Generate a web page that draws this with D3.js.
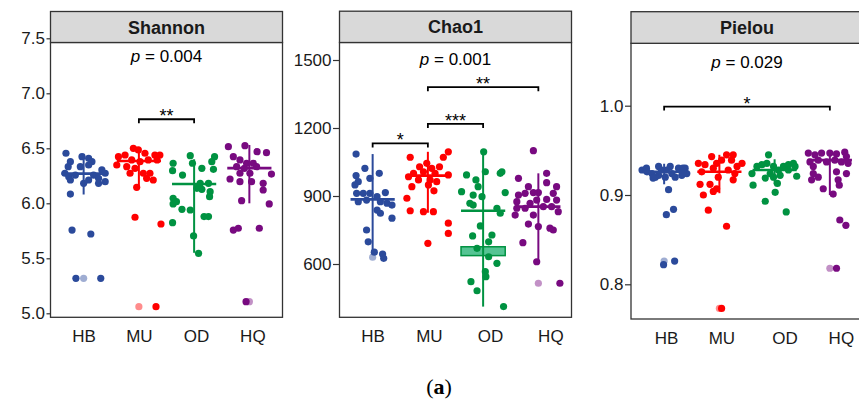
<!DOCTYPE html>
<html>
<head>
<meta charset="utf-8">
<script src="https://cdn.jsdelivr.net/npm/d3@7"></script>
<style>
  body { margin: 0; background: #fff; }
  svg { display: block; font-family: "Liberation Sans", Arial, sans-serif; }
</style>
</head>
<body>
<script>
// groups and colours
const groups = ["HB", "MU", "OD", "HQ"];
const groupColors = ["#2b4a9b", "#ff0000", "#009241", "#780a80"];

// points: [jitter (in category units), value]
const shannonHB = [[-0.32,6.455],[-0.24,6.378],[-0.28,6.333],[-0.03,6.424],[0.09,6.409],[0.15,6.378],[0.09,6.348],[-0.06,6.333],[0.33,6.303],[0.39,6.273],[-0.34,6.273],[-0.27,6.242],[-0.15,6.257],[0.18,6.257],[0.27,6.227],[0.39,6.197],[0.09,6.212],[0.0,6.182],[0.27,6.182],[-0.24,6.212],[-0.24,6.084],[-0.21,5.757],[0.13,5.721],[-0.14,5.318],[0.31,5.318]];
const shannonMU = [[-0.37,6.424],[-0.40,6.348],[-0.25,6.439],[-0.10,6.50],[-0.01,6.485],[0.11,6.455],[0.29,6.439],[0.38,6.439],[-0.13,6.394],[0.02,6.378],[0.17,6.394],[-0.22,6.333],[-0.07,6.318],[0.08,6.273],[0.20,6.273],[-0.16,6.273],[0.14,6.227],[0.26,6.212],[-0.04,6.145],[0.33,6.394],[-0.07,5.873],[0.40,5.812],[0.31,5.06]];
const shannonOD = [[-0.07,6.433],[-0.03,6.364],[-0.38,6.364],[-0.39,6.297],[-0.21,6.257],[0.14,6.318],[0.37,6.424],[0.35,6.309],[0.32,6.378],[0.11,6.182],[0.26,6.182],[0.05,6.136],[0.14,6.127],[0.29,6.106],[0.28,6.06],[-0.38,6.045],[-0.38,5.994],[-0.32,6.015],[-0.22,5.945],[-0.07,5.939],[0.18,5.879],[0.26,5.879],[-0.39,5.824],[-0.01,5.703],[0.08,5.545]];
const shannonHQ = [[-0.38,6.515],[-0.08,6.524],[0.14,6.469],[0.31,6.46],[-0.29,6.424],[-0.17,6.394],[-0.05,6.364],[0.07,6.364],[0.13,6.333],[-0.09,6.318],[-0.23,6.333],[-0.35,6.221],[-0.17,6.273],[0.01,6.273],[0.40,6.266],[0.04,6.197],[-0.17,6.197],[0.25,6.182],[0.25,6.121],[-0.14,6.024],[0.36,5.994],[-0.29,5.757],[-0.20,5.773],[0.18,5.773],[-0.06,5.106]];
const shannonOutliers = [[5.318], [5.06], [], [5.106]];
const shannonMid = [6.27, 6.385, 6.175, 6.32];
const shannonLo = [6.08, 6.15, 5.55, 6.0];
const shannonHi = [6.45, 6.5, 6.40, 6.53];
const shannonTicks = [5.0, 5.5, 6.0, 6.5, 7.0, 7.5];
const shannonSig = [["MU", "OD", "**", 6.764]];

const chao1HB = [[-0.30,1085],[-0.30,990],[-0.26,963],[-0.14,1022],[-0.05,978],[0.12,1000],[-0.32,949],[-0.29,912],[-0.17,912],[-0.05,912],[0.08,897],[0.23,915],[-0.26,875],[-0.11,882],[0.14,875],[0.26,868],[0.35,860],[0.08,838],[0.14,824],[0.35,802],[-0.11,750],[-0.08,698],[0.03,652],[0.18,644],[0.20,625]];
const chao1MU = [[-0.32,1071],[0.37,1095],[0.28,1071],[-0.02,1044],[-0.15,1029],[0.07,1022],[0.21,1029],[-0.26,1000],[-0.08,1007],[0.13,1000],[0.37,993],[-0.35,985],[-0.17,971],[0.04,971],[0.16,963],[-0.29,941],[0.01,949],[0.11,923],[-0.38,890],[-0.32,835],[-0.08,831],[0.10,831],[0.37,780],[0.37,735],[0.0,691]];
const chao1OD = [[0.01,1095],[-0.30,993],[-0.13,971],[0.04,1007],[0.31,1000],[0.34,1007],[-0.09,941],[-0.39,919],[-0.18,904],[-0.02,897],[0.40,915],[-0.24,868],[-0.18,860],[0.25,846],[0.31,824],[-0.05,768],[-0.19,724],[0.16,728],[0.10,698],[-0.11,669],[0.10,632],[0.25,603],[0.04,566],[0.05,544],[-0.22,522],[-0.11,482],[0.37,412]];
const chao1HQ = [[-0.09,1100],[-0.36,978],[0.15,1000],[0.15,959],[0.33,941],[-0.18,941],[-0.36,904],[-0.24,912],[-0.09,915],[0,915],[0.27,912],[-0.39,875],[-0.15,868],[-0.03,882],[0.15,885],[0.33,882],[-0.39,846],[-0.24,846],[0.09,853],[0.24,853],[0.36,831],[-0.42,816],[-0.09,816],[-0.18,776],[0,765],[0.21,758],[0.27,750],[-0.28,694],[-0.03,610],[0.39,515]];
const chao1Outliers = [[630], [], [], [515]];
const chao1Mid = [885, 990, 835, 853];
const chao1Lo = [648, 826, 412, 608];
const chao1Hi = [1085, 1095, 1100, 1000];
const chao1Box = ["OD", 637, 676];
const chao1Ticks = [600, 900, 1200, 1500];
const chao1Sig = [["HB", "MU", "*", 1132], ["MU", "OD", "***", 1218], ["MU", "HQ", "**", 1380]];

const pielouHB = [[-0.40,0.928],[-0.31,0.926],[-0.22,0.924],[-0.10,0.932],[-0.10,0.922],[0.02,0.920],[0.11,0.932],[0.14,0.924],[0.26,0.930],[0.32,0.922],[0.38,0.930],[0.41,0.924],[0.20,0.920],[-0.16,0.920],[0.05,0.928],[-0.32,0.930],[-0.20,0.919],[-0.05,0.928],[0.34,0.930],[0.08,0.906],[0.04,0.878],[0.17,0.884],[-0.01,0.822],[0.19,0.826]];
const pielouMU = [[-0.38,0.9355],[-0.32,0.926],[-0.14,0.943],[-0.05,0.9355],[0.04,0.939],[0.13,0.945],[0.25,0.945],[0.22,0.939],[0.41,0.9355],[-0.26,0.934],[-0.11,0.930],[0.32,0.932],[0.16,0.928],[-0.02,0.920],[0.28,0.924],[-0.35,0.912],[-0.17,0.912],[-0.05,0.907],[-0.11,0.904],[-0.29,0.900],[0.25,0.917],[-0.20,0.883],[0.13,0.865],[0.04,0.773]];
const pielouOD = [[-0.11,0.945],[-0.32,0.932],[-0.23,0.934],[-0.14,0.9355],[-0.02,0.932],[0.07,0.928],[0.16,0.932],[0.25,0.934],[0.34,0.9355],[0.37,0.932],[-0.08,0.924],[0.10,0.922],[-0.41,0.924],[0.40,0.921],[-0.17,0.919],[-0.39,0.911],[0.05,0.913],[0.01,0.903],[-0.17,0.893],[0.21,0.881],[0.25,0.928],[-0.02,0.920]];
const pielouHQ = [[-0.39,0.947],[-0.27,0.945],[-0.15,0.947],[0.0,0.947],[0.12,0.946],[0.27,0.948],[0.30,0.943],[-0.36,0.937],[-0.21,0.939],[-0.06,0.937],[0.09,0.939],[0.21,0.937],[0.33,0.9355],[-0.30,0.924],[-0.21,0.920],[-0.33,0.917],[0.12,0.926],[0.30,0.924],[0.15,0.917],[-0.12,0.907],[0.06,0.901],[0.17,0.911],[-0.30,0.932],[0.18,0.872],[0.29,0.866],[0.12,0.818]];
const pielouOutliers = [[0.826], [0.773], [], [0.818]];
const pielouMid = [0.926, 0.926, 0.928, 0.939];
const pielouLo = [0.912, 0.902, 0.912, 0.900];
const pielouHi = [0.935, 0.945, 0.940, 0.950];
const pielouTicks = [0.8, 0.9, 1.0];
const pielouSig = [["HB", "HQ", "*", 0.999]];

const titles = ["Shannon", "Chao1", "Pielou"];
const pValues = ["0.004", "0.001", "0.029"];

const W = 859, H = 405;
const svg = d3.select("body").append("svg")
  .attr("width", W).attr("height", H);

// panel layout (pixels)
const panels = [
  { left: 50.5, top: 11.5, stripBottom: 42.5, bottom: 317.3, yDomain: [5.0, 7.5], yRange: [313.3, 38.3],
    ticks: shannonTicks, fmt: d3.format(".1f"), tickLen: 4, pY: 7.282,
    points: [shannonHB, shannonMU, shannonOD, shannonHQ], outliers: shannonOutliers,
    mid: shannonMid, lo: shannonLo, hi: shannonHi, sig: shannonSig, box: null, labelShift: [0, 0, 2, 3] },
  { left: 339.5, top: 11.2, stripBottom: 42.5, bottom: 317.3, yDomain: [600, 1500], yRange: [264, 60],
    ticks: chao1Ticks, fmt: d3.format("d"), tickLen: 6.5, pY: 1478,
    points: [chao1HB, chao1MU, chao1OD, chao1HQ], outliers: chao1Outliers,
    mid: chao1Mid, lo: chao1Lo, hi: chao1Hi, sig: chao1Sig, box: chao1Box, labelShift: [0, 1, 7, 12] },
  { left: 631, top: 11.7, stripBottom: 43.3, bottom: 319, yDomain: [0.8, 1.0], yRange: [284.3, 105.7],
    ticks: pielouTicks, fmt: d3.format(".1f"), tickLen: 6, pY: 1.042,
    points: [pielouHB, pielouMU, pielouOD, pielouHQ], outliers: pielouOutliers,
    mid: pielouMid, lo: pielouLo, hi: pielouHi, sig: pielouSig, box: null, labelShift: [2, 2, 10, 11] }
];
const panelWidth = 232;

panels.forEach((p, k) => {
  const g = svg.append("g");
  const x = d3.scalePoint().domain(groups).range([p.left, p.left + panelWidth]).padding(0.6);
  const y = d3.scaleLinear().domain(p.yDomain).range(p.yRange);
  const step = x.step();
  const cx = p.left + panelWidth / 2;

  // panel background
  g.append("rect")
    .attr("x", p.left).attr("y", p.stripBottom)
    .attr("width", panelWidth).attr("height", p.bottom - p.stripBottom)
    .attr("fill", "#fff");

  // crossbar box (only Chao1 OD)
  if (p.box) {
    g.append("rect")
      .attr("x", x(p.box[0]) - 0.4 * step).attr("width", 0.8 * step)
      .attr("y", y(p.box[2])).attr("height", y(p.box[1]) - y(p.box[2]))
      .attr("fill", "#55c493").attr("stroke", groupColors[2]).attr("stroke-width", 1.5);
  }

  // boxplot outliers at group centre, faded
  groups.forEach((grp, i) => {
    g.selectAll(null).data(p.outliers[i]).join("circle")
      .attr("cx", x(grp)).attr("cy", d => y(d)).attr("r", 3.6)
      .attr("fill", groupColors[i]).attr("fill-opacity", 0.45);
  });

  // jittered points
  groups.forEach((grp, i) => {
    g.selectAll(null).data(p.points[i]).join("circle")
      .attr("cx", d => x(grp) + d[0] * step)
      .attr("cy", d => y(d[1]))
      .attr("r", 3.6)
      .attr("fill", groupColors[i]);
  });

  // summary: vertical range + horizontal centre line
  groups.forEach((grp, i) => {
    g.append("line")
      .attr("x1", x(grp)).attr("x2", x(grp))
      .attr("y1", y(p.lo[i])).attr("y2", y(p.hi[i]))
      .attr("stroke", groupColors[i]).attr("stroke-width", 2);
    g.append("line")
      .attr("x1", x(grp) - 0.4 * step).attr("x2", x(grp) + 0.4 * step)
      .attr("y1", y(p.mid[i])).attr("y2", y(p.mid[i]))
      .attr("stroke", groupColors[i]).attr("stroke-width", 2.6);
  });

  // significance brackets
  p.sig.forEach(s => {
    const x1 = x(s[0]), x2 = x(s[1]), yy = y(s[3]);
    g.append("path")
      .attr("d", `M${x1},${yy + 4}V${yy}H${x2}V${yy + 4}`)
      .attr("fill", "none").attr("stroke", "#000").attr("stroke-width", 1.8);
    g.append("text")
      .attr("x", (x1 + x2) / 2).attr("y", yy + 3)
      .attr("text-anchor", "middle").attr("font-size", 18).attr("fill", "#000")
      .text(s[2]);
  });

  // p value
  const pt = g.append("text")
    .attr("x", cx).attr("y", y(p.pY))
    .attr("text-anchor", "middle").attr("font-size", 17).attr("fill", "#000");
  pt.append("tspan").attr("font-style", "italic").text("p");
  pt.append("tspan").text(" = " + pValues[k]);

  // panel border
  g.append("rect")
    .attr("x", p.left).attr("y", p.stripBottom)
    .attr("width", panelWidth).attr("height", p.bottom - p.stripBottom)
    .attr("fill", "none").attr("stroke", "#333").attr("stroke-width", 1.3);

  // strip
  g.append("rect")
    .attr("x", p.left).attr("y", p.top)
    .attr("width", panelWidth).attr("height", p.stripBottom - p.top)
    .attr("fill", "#d9d9d9").attr("stroke", "#333").attr("stroke-width", 1.3);
  g.append("text")
    .attr("x", cx).attr("y", (p.top + p.stripBottom) / 2 + 6.5)
    .attr("text-anchor", "middle").attr("font-size", 18).attr("font-weight", "bold")
    .attr("fill", "#1a1a1a")
    .text(titles[k]);

  // y axis
  const yAxis = g.append("g")
    .attr("transform", `translate(${p.left},0)`)
    .call(d3.axisLeft(y).tickValues(p.ticks).tickSize(p.tickLen).tickPadding(1.5).tickFormat(p.fmt));
  yAxis.select(".domain").remove();
  yAxis.selectAll(".tick line").attr("stroke", "#333").attr("stroke-width", 1.2);
  yAxis.selectAll(".tick text")
    .attr("font-size", 17).attr("fill", "#1a1a1a")
    .attr("font-family", "Liberation Sans, Arial, sans-serif");

  // x axis
  const xAxis = g.append("g")
    .attr("transform", `translate(0,${p.bottom})`)
    .call(d3.axisBottom(x).tickSize(0).tickPadding(12.6));
  xAxis.select(".domain").remove();
  xAxis.selectAll(".tick text")
    .attr("font-size", 17).attr("fill", "#1a1a1a")
    .attr("font-family", "Liberation Sans, Arial, sans-serif")
    .attr("dx", (d, i) => p.labelShift[i]);
});

// figure label
const lab = svg.append("text")
  .attr("x", 439).attr("y", 394)
  .attr("text-anchor", "middle")
  .attr("font-family", "Liberation Serif, 'Times New Roman', serif")
  .attr("font-size", 22).attr("fill", "#000");
lab.append("tspan").text("(");
lab.append("tspan").attr("font-weight", "bold").text("a");
lab.append("tspan").text(")");
</script>
</body>
</html>
